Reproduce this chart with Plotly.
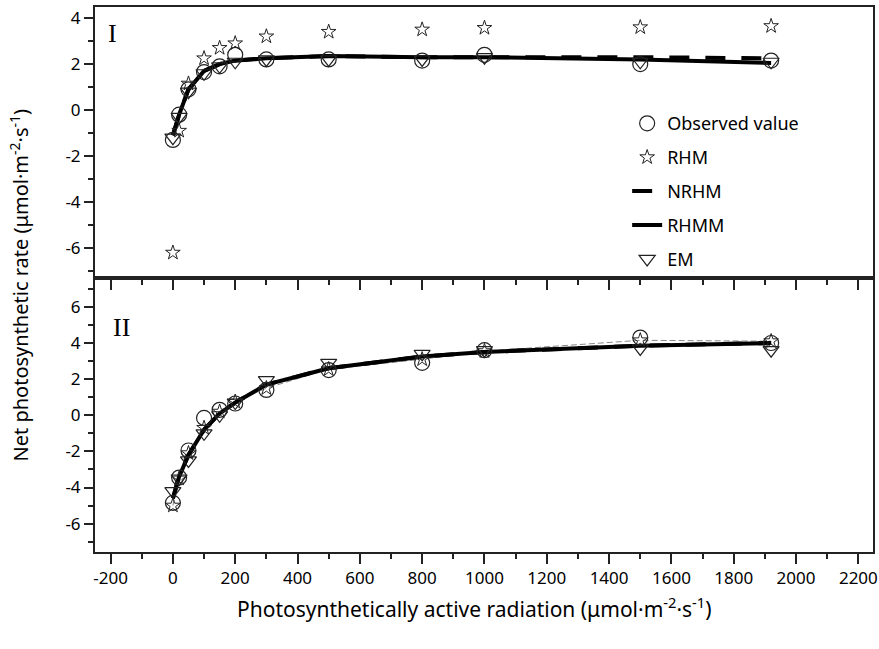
import plotly.graph_objects as go

# PAR levels (same for both panels)
par = [0, 20, 50, 100, 150, 200, 300, 500, 800, 1000, 1500, 1920]

# panel I
obs_1 = [-1.3, -0.2, 0.9, 1.65, 1.9, 2.4, 2.2, 2.2, 2.15, 2.4, 2.0, 2.15]
rhm_1 = [-6.2, -0.9, 1.15, 2.25, 2.7, 2.9, 3.2, 3.4, 3.5, 3.57, 3.6, 3.65]
nrhm_1 = [-1.1, -0.2, 0.9, 1.7, 2.0, 2.15, 2.25, 2.35, 2.3, 2.3, 2.3, 2.25]
rhmm_1 = [-1.1, -0.2, 0.9, 1.7, 2.0, 2.15, 2.25, 2.35, 2.3, 2.3, 2.2, 2.05]
em_1 = [-1.2, -0.3, 0.8, 1.6, 1.9, 2.1, 2.2, 2.2, 2.2, 2.3, 2.1, 2.1]

# panel II
obs_2 = [-4.85, -3.45, -1.95, -0.15, 0.3, 0.65, 1.4, 2.5, 2.9, 3.6, 4.3, 4.0]
rhm_2 = [-5.0, -3.5, -2.1, -0.7, 0.2, 0.75, 1.5, 2.55, 3.1, 3.55, 4.15, 4.1]
nrhm_2 = [-4.6, -3.4, -2.2, -0.8, 0.1, 0.7, 1.7, 2.6, 3.25, 3.5, 3.85, 4.0]
rhmm_2 = [-4.6, -3.4, -2.2, -0.8, 0.1, 0.7, 1.7, 2.6, 3.25, 3.5, 3.85, 4.0]
em_2 = [-4.2, -3.5, -2.5, -1.0, 0.0, 0.7, 1.95, 2.9, 3.4, 3.6, 3.7, 3.6]

x_ticks = list(range(-200, 2201, 200))
y_ticks_1 = [-6, -4, -2, 0, 2, 4]
y_ticks_2 = [-6, -4, -2, 0, 2, 4, 6]

ink = "#222222"
font_main = "Noto Sans"

fig = go.Figure()


def add_panel(xa, ya, obs, rhm, nrhm, rhmm, em, legend):
    # thick model curves first, symbols on top
    fig.add_trace(go.Scatter(x=par, y=nrhm, mode="lines", name="NRHM",
                             line=dict(color="black", width=4, dash="20px,16px"),
                             xaxis=xa, yaxis=ya, showlegend=legend,
                             legendgroup="c", legendrank=3))
    fig.add_trace(go.Scatter(x=par, y=rhmm, mode="lines", name="RHMM",
                             line=dict(color="black", width=4),
                             xaxis=xa, yaxis=ya, showlegend=legend,
                             legendgroup="d", legendrank=4))
    fig.add_trace(go.Scatter(x=par, y=obs, mode="markers", name="Observed value",
                             marker=dict(symbol="circle-open", size=15, color=ink,
                                         line=dict(width=1.2, color=ink)),
                             xaxis=xa, yaxis=ya, showlegend=legend,
                             legendgroup="a", legendrank=1))
    fig.add_trace(go.Scatter(x=par, y=em, mode="markers", name="EM",
                             marker=dict(symbol="triangle-down-open", size=14, color=ink,
                                         line=dict(width=1.2, color=ink)),
                             xaxis=xa, yaxis=ya, showlegend=legend,
                             legendgroup="e", legendrank=5))
    fig.add_trace(go.Scatter(x=par, y=rhm, mode="markers", name="RHM",
                             marker=dict(symbol="star-open", size=11, color=ink,
                                         line=dict(width=1, color=ink)),
                             xaxis=xa, yaxis=ya, showlegend=legend,
                             legendgroup="b", legendrank=2))


# thin grey curve in panel II
fig.add_trace(go.Scatter(x=par, y=rhm_2, mode="lines", showlegend=False,
                         line=dict(color="#888888", width=1, dash="6px,3px"),
                         xaxis="x2", yaxis="y2"))

add_panel("x", "y", obs_1, rhm_1, nrhm_1, rhmm_1, em_1, True)
add_panel("x2", "y2", obs_2, rhm_2, nrhm_2, rhmm_2, em_2, False)

split = 0.5028
axis_common = dict(showline=True, linecolor=ink, linewidth=2, mirror=True,
                   ticks="outside", tickcolor=ink, tickwidth=2, showgrid=False,
                   zeroline=False, automargin=False,
                   tickfont=dict(family=font_main, size=17, color="black"))
minor_x = dict(dtick=100, tick0=0, ticklen=5, ticks="outside", tickcolor=ink, tickwidth=2)
minor_y = dict(dtick=1, tick0=0, ticklen=5, ticks="outside", tickcolor=ink, tickwidth=2)

fig.update_layout(
    width=879, height=649,
    margin=dict(l=95, r=6, t=7, b=97),
    paper_bgcolor="white", plot_bgcolor="white",
    xaxis=dict(axis_common, range=[-250, 2247], tickvals=x_ticks, ticklen=10,
               showticklabels=False, anchor="y", minor=minor_x),
    yaxis=dict(axis_common, domain=[split, 1], range=[-7.3, 4.48],
               tickvals=y_ticks_1, ticktext=[str(v) for v in y_ticks_1],
               ticklen=9, anchor="x", minor=minor_y),
    xaxis2=dict(axis_common, range=[-250, 2247],
                tickvals=x_ticks, ticktext=[str(v) for v in x_ticks],
                ticklen=10, anchor="y2", minor=minor_x),
    yaxis2=dict(axis_common, domain=[0, split], range=[-7.57, 7.6],
                tickvals=y_ticks_2, ticktext=[str(v) for v in y_ticks_2],
                ticklen=9, anchor="x2", minor=minor_y),
    legend=dict(x=0.684, y=0.82, xanchor="left", yanchor="top",
                bgcolor="rgba(0,0,0,0)", borderwidth=0,
                traceorder="grouped", tracegroupgap=7.5,
                font=dict(family=font_main, size=18, color="black")),
    showlegend=True,
)

# panel labels
fig.add_annotation(x=0.0146, y=0.981, xref="paper", yref="paper", text="I",
                   showarrow=False, xanchor="left", yanchor="top",
                   font=dict(family="Liberation Serif", size=26, color="black"))
fig.add_annotation(x=0.021, y=0.442, xref="paper", yref="paper", text="II",
                   showarrow=False, xanchor="left", yanchor="top",
                   font=dict(family="Liberation Serif", size=26, color="black"))

# axis titles
fig.add_annotation(x=-0.097, y=0.49, xref="paper", yref="paper", textangle=-90,
                   text="Net photosynthetic rate (μmol·m<sup>-2</sup>·s<sup>-1</sup>)",
                   showarrow=False, xanchor="center", yanchor="middle",
                   font=dict(family=font_main, size=20, color="black"))
fig.add_annotation(x=0.488, y=-0.101, xref="paper", yref="paper",
                   text="Photosynthetically active radiation (μmol·m<sup>-2</sup>·s<sup>-1</sup>)",
                   showarrow=False, xanchor="center", yanchor="middle",
                   font=dict(family=font_main, size=21, color="black"))

fig.write_html("out.html", config={"displayModeBar": False},
               post_script="document.body.style.margin='0';")
